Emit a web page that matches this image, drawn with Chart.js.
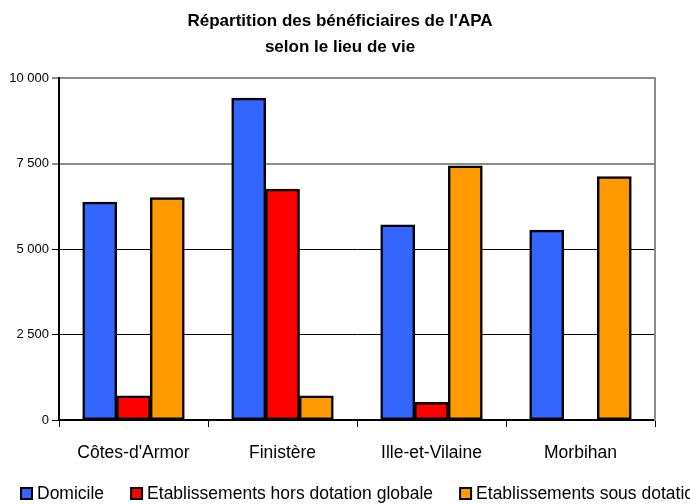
<!DOCTYPE html>
<html lang="fr">
<head>
<meta charset="utf-8">
<title>Répartition des bénéficiaires de l'APA</title>
<script src="https://cdn.jsdelivr.net/npm/chart.js@4.4.1/dist/chart.umd.min.js"></script>
<style>
  html, body { margin: 0; padding: 0; background: #fff; overflow: hidden; }
  #chart { display: block; }
</style>
</head>
<body>
<canvas id="chart" width="690" height="504"></canvas>
<script>
// data
const departements = ["Côtes-d'Armor", "Finistère", "Ille-et-Vilaine", "Morbihan"];
const domicile = [6370, 9410, 5700, 5550];
const horsDotation = [700, 6750, 510, null];
const sousDotation = [6500, 700, 7430, 7110];
const seriesNames = ["Domicile", "Etablissements hors dotation globale", "Etablissements sous dotation globale"];
const yTicks = [0, 2500, 5000, 7500, 10000];

const FONT = '"Liberation Sans", Arial, sans-serif';
const GRAY = "#8c8c8c";

function fmt(v) {
  return String(v).replace(/\B(?=(\d{3})+(?!\d))/g, " ");
}

// legend is wider than the picture and simply runs off the right edge,
// so it is painted by hand instead of the built-in (which would wrap)
const bottomLegend = {
  id: "bottomLegend",
  afterDraw(chart) {
    const ctx = chart.ctx;
    const y = 494;
    let x = 20;
    ctx.save();
    ctx.font = "17.5px " + FONT;
    ctx.textBaseline = "middle";
    chart.data.datasets.forEach(ds => {
      ctx.fillStyle = ds.backgroundColor;
      ctx.fillRect(x + 1, y - 6, 11, 11);
      ctx.strokeStyle = "#000";
      ctx.lineWidth = 2;
      ctx.strokeRect(x + 1, y - 6, 11, 11);
      ctx.fillStyle = "#000";
      ctx.fillText(ds.label, x + 17, y);
      x += 17 + ctx.measureText(ds.label).width + 26;
    });
    ctx.restore();
  },
};

function bar(label, data, color) {
  return {
    label,
    data,
    backgroundColor: color,
    borderColor: "#000",
    borderWidth: 2.5,
    borderSkipped: false,
    inflateAmount: 0.5,
    categoryPercentage: 0.68,
    barPercentage: 1.0,
  };
}

new Chart(document.getElementById("chart"), {
  type: "bar",
  data: {
    labels: departements,
    datasets: [
      bar(seriesNames[0], domicile, "#3366ff"),
      bar(seriesNames[1], horsDotation, "#ff0000"),
      bar(seriesNames[2], sousDotation, "#ff9900"),
    ],
  },
  plugins: [bottomLegend],
  options: {
    responsive: false,
    animation: false,
    layout: { padding: { left: 0, right: 10, top: 0, bottom: 42 } },
    plugins: {
      legend: { display: false },
      tooltip: { enabled: false },
      title: {
        display: true,
        text: ["Répartition des bénéficiaires de l'APA", "selon le lieu de vie"],
        color: "#000",
        font: { family: FONT, size: 17, weight: "bold", lineHeight: 1.53 },
        padding: { top: 8, bottom: 18 },
      },
    },
    scales: {
      x: {
        afterFit: s => { s.height = 42; },
        grid: { offset: true, drawOnChartArea: false, drawTicks: true, tickLength: 7, color: "#000" },
        border: { color: "#000", width: 2 },
        ticks: { padding: 16, color: "#000", font: { family: FONT, size: 17.5 } },
      },
      y: {
        min: 0,
        max: 10000,
        afterBuildTicks: s => { s.ticks = yTicks.map(v => ({ value: v })); },
        afterFit: s => { s.width = 59; },
        ticks: { padding: 3, color: "#000", font: { family: FONT, size: 13 }, callback: v => fmt(v) },
        grid: {
          color: c => (c.tick && c.tick.value >= 7500 ? GRAY : "#000"),
          lineWidth: c => (c.tick && c.tick.value >= 7500 ? 2 : 1),
          tickLength: 7,
        },
        border: { color: "#000", width: 2 },
      },
      y2: {
        position: "right",
        afterFit: s => { s.width = 25; },
        ticks: { display: false },
        grid: { drawOnChartArea: false, drawTicks: false },
        border: { color: GRAY, width: 2 },
      },
    },
  },
});
</script>
</body>
</html>
